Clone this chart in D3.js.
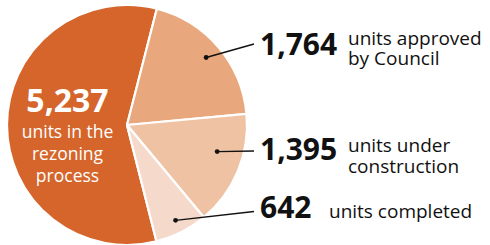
<!DOCTYPE html>
<html>
<head>
<meta charset="utf-8">
<script src="https://cdn.jsdelivr.net/npm/d3@7"></script>
<style>
  body { margin: 0; background: #fff; }
  svg text { font-family: "Open Sans", sans-serif; }
</style>
</head>
<body>
<div id="chart"></div>
<script>
const categories = ["rezoning", "approved", "construction", "completed"]
const values = [5237, 1764, 1395, 642]
const valueLabels = ["5,237", "1,764", "1,395", "642"]
const descLines = [
  ["units in the", "rezoning", "process"],
  ["units approved", "by Council"],
  ["units under", "construction"],
  ["units completed"]
]

const palette = ['#d5652b', '#e8a77c', '#eec2a3', '#f5dacb']

const width = 490, height = 245
const radius = 120
const cx = 127, cy = 125

const color = d3.scaleOrdinal().domain(categories).range(palette)

// callout layout for the three small slices
const callouts = {
  approved:     { dotR: 104, shift: 0,  lineY: 44,    numY: 55,    descY: 44.5,  descX: 348 },
  construction: { dotR: 94,  shift: -6, lineY: 151,   numY: 160,   descY: 152,   descX: 348 },
  completed:    { dotR: 107, shift: 0,  lineY: 211.5, numY: 217.5, descY: 217.5, descX: 329 }
}

const svg = d3.select("#chart").append("svg")
  .attr("width", width)
  .attr("height", height)

const g = svg.append("g")
  .attr("transform", "translate(" + cx + "," + cy + ")")

const start = 165.8 * Math.PI / 180
const pie = d3.pie()
  .sort(null)
  .startAngle(start)
  .endAngle(start + 2 * Math.PI)
  .value(d => d)

const arc = d3.arc()
  .innerRadius(0)
  .outerRadius(radius)

const arcs = pie(values)

g.selectAll("path.slice")
  .data(arcs)
  .enter()
  .append("path")
  .attr("class", "slice")
  .attr("fill", (d, i) => color(categories[i]))
  .attr("stroke", "#fff")
  .attr("stroke-width", 2.2)
  .attr("stroke-linejoin", "round")
  .attr("d", arc)

// big slice label inside
const inner = g.append("text")
  .attr("fill", "#fff")
  .attr("text-anchor", "middle")
inner.append("tspan")
  .attr("x", 67.5 - cx).attr("y", 112.3 - cy)
  .attr("font-size", 32).attr("font-weight", 700)
  .text(valueLabels[0])
descLines[0].forEach((t, k) => {
  inner.append("tspan")
    .attr("x", 67.5 - cx).attr("y", 138 - cy + k * 22)
    .attr("font-size", 17.5)
    .text(t)
})

// callouts
arcs.forEach((d, i) => {
  if (i === 0) return
  const c = callouts[categories[i]]
  const a = (d.startAngle + d.endAngle) / 2 + c.shift * Math.PI / 180
  const px = cx + c.dotR * Math.sin(a)
  const py = cy - c.dotR * Math.cos(a)

  svg.append("line")
    .attr("x1", px).attr("y1", py)
    .attr("x2", 254).attr("y2", c.lineY)
    .attr("stroke", "#111")
    .attr("stroke-width", 1.4)
  svg.append("circle")
    .attr("cx", px).attr("cy", py)
    .attr("r", 2.4)
    .attr("fill", "#111")

  svg.append("text")
    .attr("x", 260).attr("y", c.numY)
    .attr("font-size", 30).attr("font-weight", 700)
    .attr("fill", "#111")
    .text(valueLabels[i])

  const desc = svg.append("text")
    .attr("font-size", 19)
    .attr("fill", "#111")
  descLines[i].forEach((t, k) => {
    desc.append("tspan")
      .attr("x", c.descX).attr("y", c.descY + k * 20.5)
      .text(t)
  })
})
</script>
</body>
</html>
